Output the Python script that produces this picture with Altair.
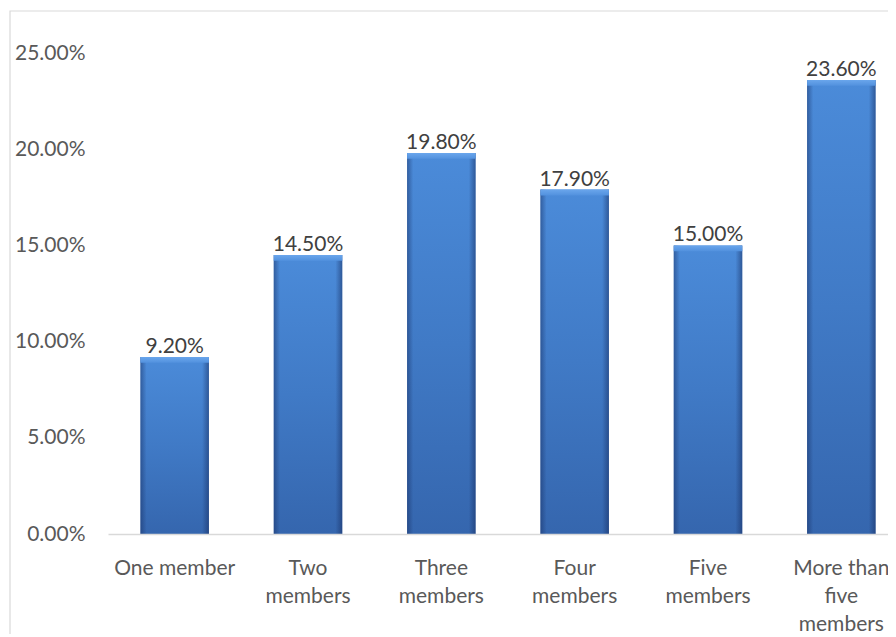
import altair as alt
import pandas as pd

categories = ["One member", "Two\nmembers", "Three\nmembers", "Four\nmembers", "Five\nmembers", "More than\nfive\nmembers"]
values = [9.2, 14.5, 19.8, 17.9, 15.0, 23.6]
y_ticks = [0, 5, 10, 15, 20, 25]

df = pd.DataFrame({"cat": categories, "val": values})

FONT = "Lato"
FS = 21

x_scale = alt.Scale(paddingInner=0.486, paddingOuter=0.243, range=[0, 800])

x_enc = alt.X("cat:N", sort=categories, title=None, scale=x_scale,
              axis=alt.Axis(labelExpr="split(datum.label, '\\n')", labelAngle=0,
                            labelFont=FONT, labelFontSize=FS, labelColor="#595959",
                            labelLineHeight=28, labelPadding=23, ticks=False,
                            domainColor="#d9d9d9", domainWidth=1.5, labelLimit=300,
                            zindex=1))
y_enc = alt.Y("val:Q", title=None,
              scale=alt.Scale(domain=[0, 25], nice=False),
              axis=alt.Axis(values=y_ticks, labelExpr="format(datum.value, '.2f') + '%'",
                            labelFont=FONT, labelFontSize=FS, labelColor="#595959",
                            labelPadding=23, ticks=False, domain=False, grid=False,
                            zindex=1))

base = alt.Chart(df)

frame = alt.Chart(pd.DataFrame({"a": [0]})).mark_rect(
    filled=False, stroke="#d9d9d9", strokeWidth=1.2
).encode(x=alt.value(-98), x2=alt.value(900), y=alt.value(-42), y2=alt.value(700))

bars = base.mark_bar(
    color=alt.Gradient(gradient="linear", x1=0, x2=0, y1=0, y2=1,
                       stops=[alt.GradientStop(color="#4b8bd9", offset=0),
                              alt.GradientStop(color="#407ac6", offset=0.5),
                              alt.GradientStop(color="#3566ae", offset=1)])
).encode(x=x_enc, y=y_enc)

edges = base.mark_bar(
    color=alt.Gradient(gradient="linear", x1=0, x2=1, y1=0, y2=0,
                       stops=[alt.GradientStop(color="rgba(20,40,90,0.45)", offset=0),
                              alt.GradientStop(color="rgba(20,40,90,0.0)", offset=0.09),
                              alt.GradientStop(color="rgba(20,40,90,0.0)", offset=0.9),
                              alt.GradientStop(color="rgba(20,40,90,0.5)", offset=1)])
).encode(x=alt.X("cat:N", sort=categories), y="val:Q")

bevel = base.transform_calculate(top2="datum.val - 0.3").mark_bar(
    color=alt.Gradient(gradient="linear", x1=0, x2=0, y1=0, y2=1,
                       stops=[alt.GradientStop(color="#6aa6ec", offset=0),
                              alt.GradientStop(color="#5291de", offset=1)])
).encode(x=alt.X("cat:N", sort=categories), y="val:Q", y2="top2:Q")

labels = base.mark_text(
    baseline="alphabetic", dy=-4, font=FONT, fontSize=FS, color="#404040"
).encode(x=alt.X("cat:N", sort=categories), y="val:Q",
         text=alt.Text("label:N")).transform_calculate(
    label="format(datum.val, '.2f') + '%'")

chart = alt.layer(frame, bars, edges, bevel, labels).properties(
    width=780, height=481,
    background="white",
    autosize=alt.AutoSizeParams(type="none"),
    padding={"left": 100, "top": 45, "right": 0, "bottom": 100},
).configure_view(strokeWidth=0)

chart.save("out.html", embed_options={"renderer": "svg", "actions": False})
